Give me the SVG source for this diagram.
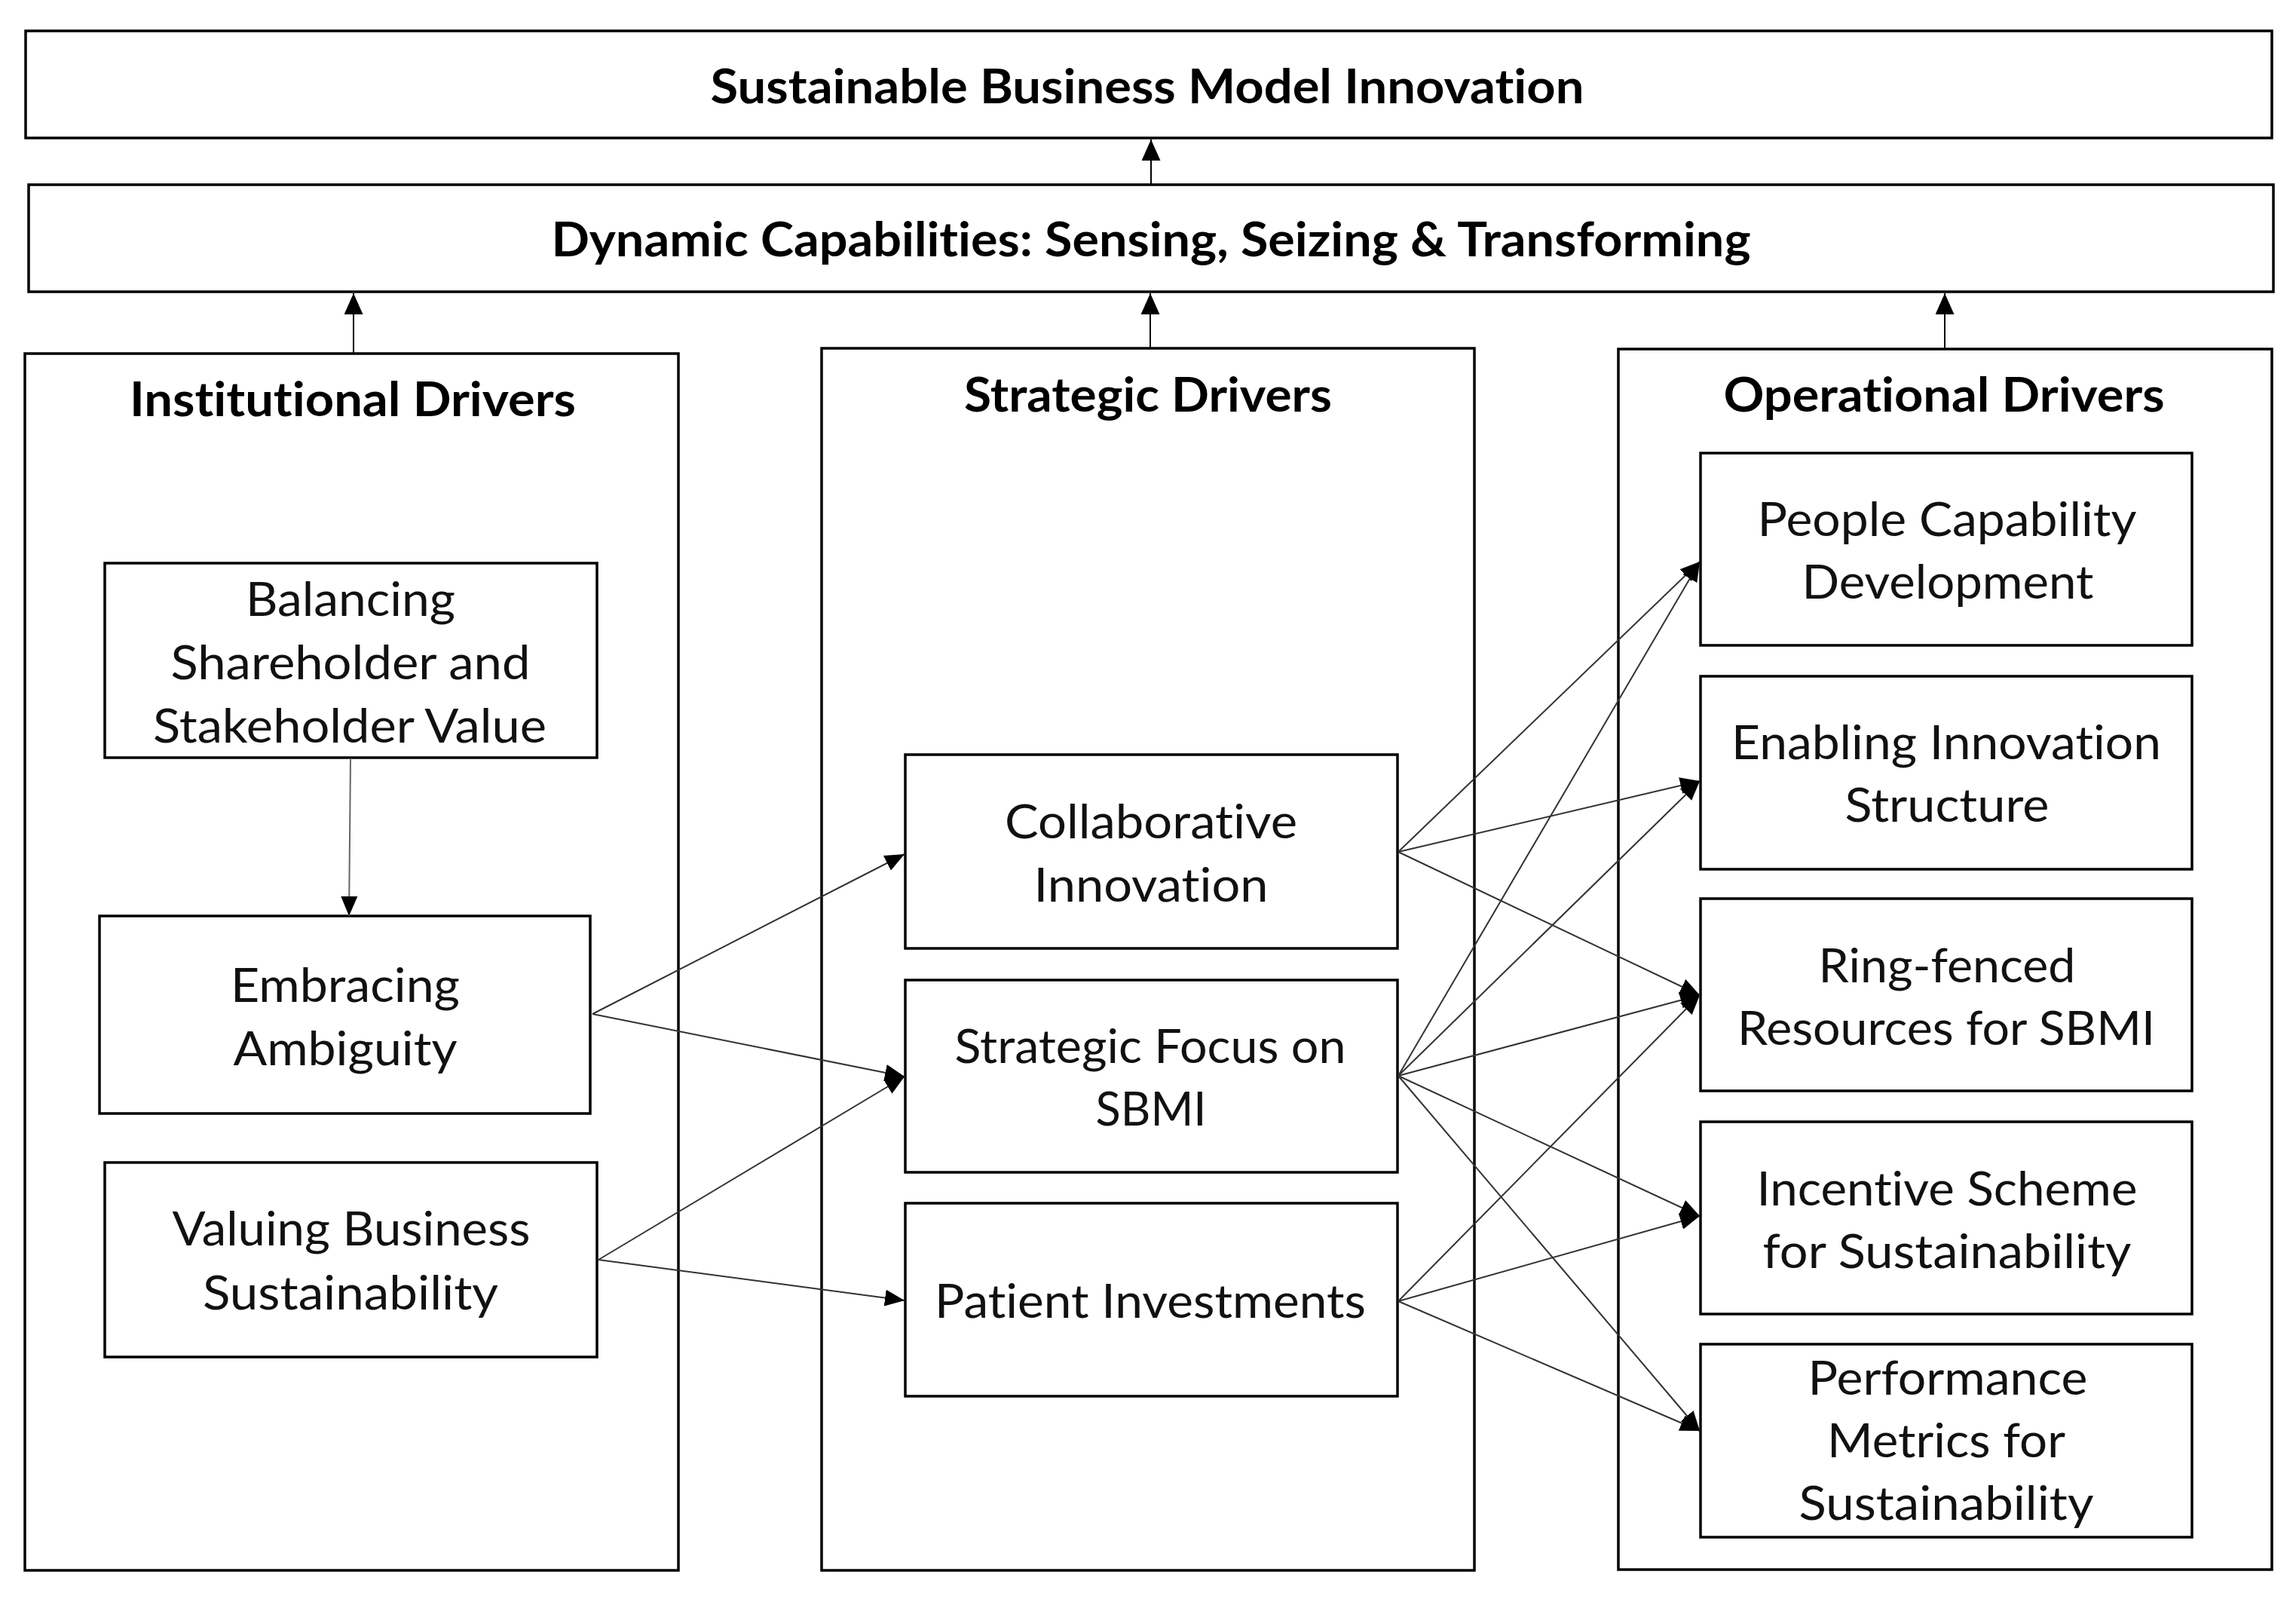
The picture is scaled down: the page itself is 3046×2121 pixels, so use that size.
<svg xmlns="http://www.w3.org/2000/svg" width="3046" height="2121" viewBox="0 0 3046 2121">
<defs>
<style>
.box{fill:#fff;stroke:#000;stroke-width:3.5}
.t,.b{font-family:Lato,"Open Sans","Liberation Sans",sans-serif;text-anchor:middle;font-variant-ligatures:none;font-feature-settings:"liga" 0,"clig" 0,"dlig" 0}
.t{font-size:61px;fill:#111}
.b{font-size:63px;font-weight:bold;fill:#000}
.c{fill:none;stroke:#333;stroke-width:2;marker-end:url(#ah)}
.u{fill:none;stroke:#000;stroke-width:2;marker-end:url(#ah2)}
</style>
<marker id="ah" markerUnits="userSpaceOnUse" markerWidth="26" markerHeight="22" viewBox="0 0 26 22" refX="26" refY="11" orient="auto"><path d="M0,0 L26,11 L0,22 z" fill="#000"/></marker>
<marker id="ah2" markerUnits="userSpaceOnUse" markerWidth="28" markerHeight="25" viewBox="0 0 28 25" refX="28" refY="12.5" orient="auto"><path d="M0,0 L28,12.5 L0,25 z" fill="#000"/></marker>
</defs>
<rect width="3046" height="2121" fill="#fff"/>

<g id="sbmi">
<rect class="box" x="34" y="41" width="2980" height="142"/>
<text class="b" x="1522" y="137" textLength="1159" lengthAdjust="spacingAndGlyphs">Sustainable Business Model Innovation</text>
</g>
<g id="dynamic-capabilities">
<rect class="box" x="38" y="245" width="2978" height="142"/>
<text class="b" x="1527" y="340" textLength="1591" lengthAdjust="spacingAndGlyphs">Dynamic Capabilities: Sensing, Seizing &amp; Transforming</text>
</g>

<g id="institutional">
<rect class="box" x="33" y="469" width="867" height="1614"/>
<text class="b" x="468" y="552" textLength="592" lengthAdjust="spacingAndGlyphs">Institutional Drivers</text>
</g>
<g id="strategic">
<rect class="box" x="1090" y="462" width="866" height="1621"/>
<text class="b" x="1523" y="546" textLength="488" lengthAdjust="spacingAndGlyphs">Strategic Drivers</text>
</g>
<g id="operational">
<rect class="box" x="2147" y="463" width="867" height="1619"/>
<text class="b" x="2579" y="546" textLength="585" lengthAdjust="spacingAndGlyphs">Operational Drivers</text>
</g>

<g id="balancing">
<rect class="box" x="139" y="747" width="653" height="258"/>
<text class="t" x="465" y="817" textLength="278" lengthAdjust="spacingAndGlyphs">Balancing</text>
<text class="t" x="465" y="901" textLength="477" lengthAdjust="spacingAndGlyphs">Shareholder and</text>
<text class="t" x="464" y="985" textLength="522" lengthAdjust="spacingAndGlyphs">Stakeholder Value</text>
</g>
<g id="embracing">
<rect class="box" x="132" y="1215" width="651" height="262"/>
<text class="t" x="458" y="1329" textLength="304" lengthAdjust="spacingAndGlyphs">Embracing</text>
<text class="t" x="458" y="1413" textLength="297" lengthAdjust="spacingAndGlyphs">Ambiguity</text>
</g>
<g id="valuing">
<rect class="box" x="139" y="1542" width="653" height="258"/>
<text class="t" x="466" y="1652" textLength="475" lengthAdjust="spacingAndGlyphs">Valuing Business</text>
<text class="t" x="465" y="1737" textLength="392" lengthAdjust="spacingAndGlyphs">Sustainability</text>
</g>

<g id="collaborative">
<rect class="box" x="1201" y="1001" width="653" height="257"/>
<text class="t" x="1527" y="1112" textLength="388" lengthAdjust="spacingAndGlyphs">Collaborative</text>
<text class="t" x="1527" y="1196" textLength="311" lengthAdjust="spacingAndGlyphs">Innovation</text>
</g>
<g id="strategic-focus">
<rect class="box" x="1201" y="1300" width="653" height="255"/>
<text class="t" x="1526" y="1410" textLength="519" lengthAdjust="spacingAndGlyphs">Strategic Focus on</text>
<text class="t" x="1527" y="1493" textLength="147" lengthAdjust="spacingAndGlyphs">SBMI</text>
</g>
<g id="patient">
<rect class="box" x="1201" y="1596" width="653" height="256"/>
<text class="t" x="1526" y="1748" textLength="572" lengthAdjust="spacingAndGlyphs">Patient Investments</text>
</g>

<g id="people">
<rect class="box" x="2256" y="601" width="652" height="255"/>
<text class="t" x="2583" y="711" textLength="503" lengthAdjust="spacingAndGlyphs">People Capability</text>
<text class="t" x="2584" y="794" textLength="387" lengthAdjust="spacingAndGlyphs">Development</text>
</g>
<g id="enabling">
<rect class="box" x="2256" y="897" width="652" height="256"/>
<text class="t" x="2582" y="1007" textLength="570" lengthAdjust="spacingAndGlyphs">Enabling Innovation</text>
<text class="t" x="2583" y="1090" textLength="271" lengthAdjust="spacingAndGlyphs">Structure</text>
</g>
<g id="ringfenced">
<rect class="box" x="2256" y="1192" width="652" height="255"/>
<text class="t" x="2583" y="1303" textLength="341" lengthAdjust="spacingAndGlyphs">Ring-fenced</text>
<text class="t" x="2582" y="1386" textLength="554" lengthAdjust="spacingAndGlyphs">Resources for SBMI</text>
</g>
<g id="incentive">
<rect class="box" x="2256" y="1488" width="652" height="255"/>
<text class="t" x="2583" y="1599" textLength="505" lengthAdjust="spacingAndGlyphs">Incentive Scheme</text>
<text class="t" x="2583" y="1682" textLength="489" lengthAdjust="spacingAndGlyphs">for Sustainability</text>
</g>
<g id="performance">
<rect class="box" x="2256" y="1783" width="652" height="256"/>
<text class="t" x="2584" y="1850" textLength="371" lengthAdjust="spacingAndGlyphs">Performance</text>
<text class="t" x="2582" y="1933" textLength="316" lengthAdjust="spacingAndGlyphs">Metrics for</text>
<text class="t" x="2582" y="2016" textLength="391" lengthAdjust="spacingAndGlyphs">Sustainability</text>
</g>

<g id="connectors">
<path class="u" d="M1527,245 L1527,185"/>
<path class="u" d="M469,468 L469,389"/>
<path class="u" d="M1526,461 L1526,389"/>
<path class="u" d="M2580,462 L2580,389"/>
<path class="c" style="stroke:#666" d="M465,1006 L463,1215"/>
<path class="c" d="M786,1345 L1200,1133"/>
<path class="c" d="M786,1345 L1200,1428"/>
<path class="c" d="M794,1671 L1200,1428"/>
<path class="c" d="M794,1671 L1200,1725"/>
<path class="c" d="M1855,1130 L2255,745"/>
<path class="c" d="M1855,1130 L2255,1036"/>
<path class="c" d="M1855,1130 L2255,1320"/>
<path class="c" d="M1855,1427 L2255,745"/>
<path class="c" d="M1855,1427 L2255,1036"/>
<path class="c" d="M1855,1427 L2255,1320"/>
<path class="c" d="M1855,1427 L2255,1613"/>
<path class="c" d="M1855,1427 L2255,1898"/>
<path class="c" d="M1855,1726 L2255,1320"/>
<path class="c" d="M1855,1726 L2255,1613"/>
<path class="c" d="M1855,1726 L2255,1898"/>
</g>
</svg>
